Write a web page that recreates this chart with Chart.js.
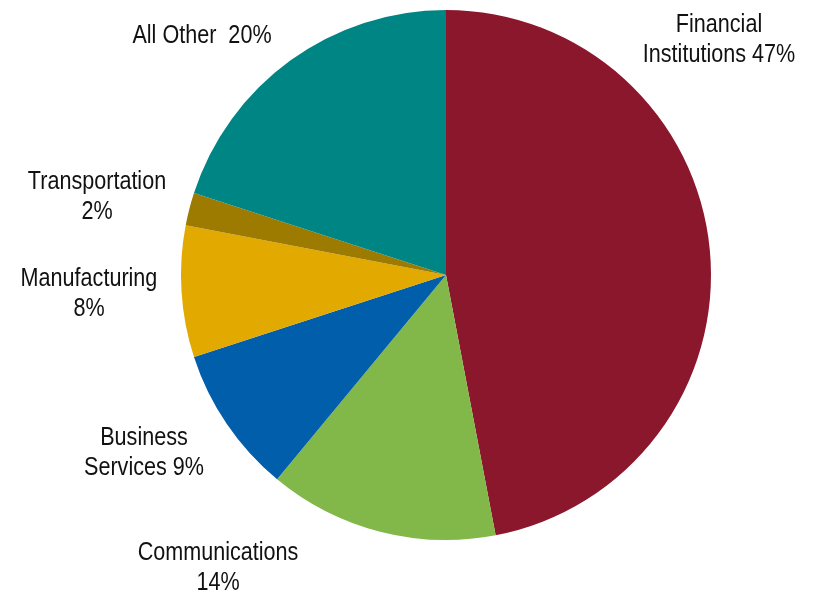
<!DOCTYPE html>
<html>
<head>
<meta charset="utf-8">
<script src="https://cdn.jsdelivr.net/npm/chart.js@4"></script>
<style>
  html, body { margin: 0; padding: 0; background: #fff; }
  canvas { display: block; }
</style>
</head>
<body>
<canvas id="pie" width="816" height="595"></canvas>
<script>
// sector shares, clockwise from 12 o'clock
var sectors = ['Financial Institutions', 'Communications', 'Business Services', 'Manufacturing', 'Transportation', 'All Other'];
var shares = [47, 14, 9, 8, 2, 20];
var colors = ['#8B172D', '#82B74A', '#015EAA', '#E2A900', '#9D7A00', '#008585'];

// text lines for each slice label ({v} gets the share)
var labelLines = [
    ['Financial', 'Institutions {v}%'],
    ['Communications', '{v}%'],
    ['Business', 'Services {v}%'],
    ['Manufacturing', '{v}%'],
    ['Transportation', '{v}%'],
    ['All Other  {v}%']
];
// centre x and first baseline of each label block
var labelAt = [[719, 32], [218, 560], [144, 445], [89, 286], [97, 189], [202, 43]];
var LINE_H = 30;

// no narrow face installed, so squeeze a regular one
var FONT = '26px "Liberation Sans", Arial, sans-serif';
var SQUEEZE = 0.83;

var sliceLabels = {
    id: 'sliceLabels',
    afterDraw: function (chart) {
        var ctx = chart.ctx;
        var vals = chart.data.datasets[0].data;
        for (var i = 0; i < vals.length; i++) {
            var lines = labelLines[i];
            for (var j = 0; j < lines.length; j++) {
                ctx.save();
                ctx.font = FONT;
                ctx.fillStyle = '#111';
                ctx.textAlign = 'center';
                ctx.textBaseline = 'alphabetic';
                ctx.translate(labelAt[i][0], labelAt[i][1] + j * LINE_H);
                ctx.scale(SQUEEZE, 1);
                ctx.fillText(lines[j].replace('{v}', vals[i]), 0, 0);
                ctx.restore();
            }
        }
    }
};

new Chart(document.getElementById('pie'), {
    type: 'pie',
    data: {
        labels: sectors,
        datasets: [{
            data: shares,
            backgroundColor: colors,
            borderWidth: 0
        }]
    },
    options: {
        responsive: false,
        animation: false,
        layout: { padding: { top: 10, bottom: 55, left: 181, right: 105 } },
        plugins: {
            legend: { display: false },
            tooltip: { enabled: false }
        }
    },
    plugins: [sliceLabels]
});
</script>
</body>
</html>
